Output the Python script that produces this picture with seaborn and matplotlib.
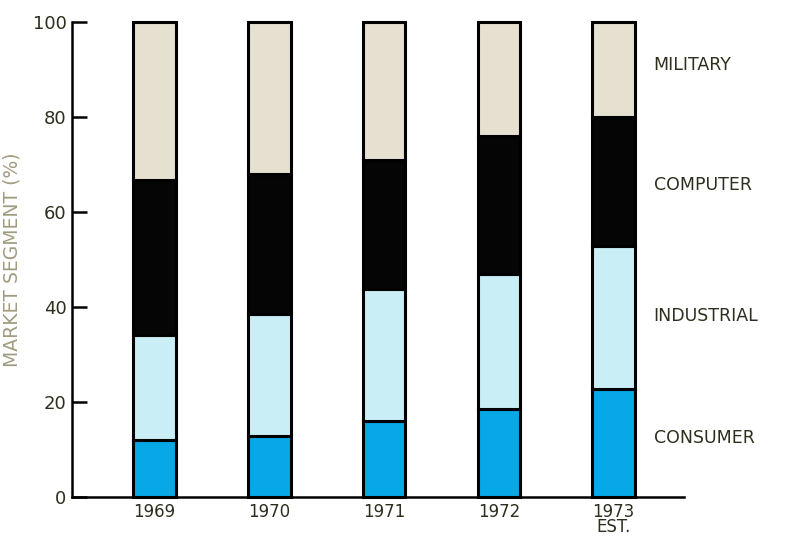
import numpy as np
import pandas as pd
import matplotlib
matplotlib.use("Agg")
import matplotlib.pyplot as plt
import seaborn as sns

# данные (проценты по сегментам)
years = ["1969", "1970", "1971", "1972", "1973\nEST."]
consumer = [12.0, 12.8, 16.0, 18.5, 22.7]
industrial = [22.0, 25.7, 27.8, 28.5, 30.1]
computer = [32.7, 29.5, 27.2, 29.0, 27.2]
military = [33.3, 32.0, 29.0, 24.0, 20.0]

segments = ["CONSUMER", "INDUSTRIAL", "COMPUTER", "MILITARY"]
values = [consumer, industrial, computer, military]
colors = ["#07a8e6", "#c9eef5", "#050505", "#e6e0d1"]
label_y = [12.4, 38, 65.7, 91]

sns.set_style("white")
plt.rcParams['font.family'] = ['DejaVu Sans']

fig = plt.figure(figsize=(7.89, 5.38), dpi=100)
ax = fig.add_axes([0.0913, 0.0762, 0.775, 0.883])

bottom = np.zeros(len(years))
for seg, vals, col in zip(segments, values, colors):
    df = pd.DataFrame({"year": years, "pct": vals})
    sns.barplot(data=df, x="year", y="pct", color=col, bottom=bottom,
                width=0.37, edgecolor="black", linewidth=2.2, saturation=1,
                ax=ax, clip_on=False)
    bottom = bottom + np.array(vals)

ax.set_xlim(-0.72, 4.61)
ax.set_ylim(0, 100)
ax.set_yticks([0, 20, 40, 60, 80, 100])
ax.set_xlabel("")
ax.set_ylabel("MARKET SEGMENT (%)", color="#a19c80", fontsize=13.5, labelpad=8)

txt = "#2e2e1e"
ax.tick_params(axis="y", direction="in", length=11, width=1.8, color="black",
               labelsize=13, labelcolor=txt, pad=4, left=True)
ax.tick_params(axis="x", length=0, labelsize=12, labelcolor=txt, pad=4)
for t in ax.get_xticklabels():
    t.set_linespacing(0.8)

sns.despine(ax=ax)
for s in ["left", "bottom"]:
    ax.spines[s].set_linewidth(1.8)
    ax.spines[s].set_color("black")

for seg, y in zip(segments, label_y):
    ax.text(4.35, y, seg, fontsize=12.5, color=txt, va="center", ha="left",
            clip_on=False)

fig.savefig("out.png", dpi=100)
